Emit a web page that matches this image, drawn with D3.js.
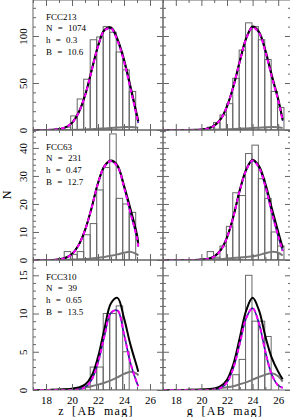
<!DOCTYPE html>
<html><head><meta charset="utf-8">
<script src="https://cdn.jsdelivr.net/npm/d3@7"></script>
<style>body{margin:0;background:#fff}svg{display:block}</style>
</head><body><svg id="c" width="290" height="417"></svg>
<script>
// ---------------- data ----------------
const magL = [17,17.5,18,18.5,19,19.5,20,20.5,21,21.5,22,22.5,23,23.5,24,24.5,25,25.1];
const magR = [17,17.5,18,18.5,19,19.5,20,20.5,21,21.5,22,22.5,23,23.5,24,24.5,25,25.5,26,26.35];

const galaxies = ["FCC213","FCC63","FCC310"];
const nValues = ["1074","231","39"];
const hValues = ["0.3","0.47","0.65"];
const bValues = ["10.6","12.7","13.5"];

const binWidth = 0.5;
// FCC213
const fcc213_z_start = 19.4;
const fcc213_z_counts = [3,15,33,54,96,99,110,104,83,64,41];
const fcc213_g_start = 20.45;
const fcc213_g_counts = [3,8,16,28,55,85,114,110,96,75,41,24];
const fcc213_z_gc    = [0,0,0.1,0.3,0.9,2.8,7.5,18.2,36.4,62.6,88.8,106,108,95,73,44,13.5,7.5];
const fcc213_z_bg    = [0,0,0,0,0,0,0.1,0.3,0.6,0.9,1.3,1.7,2.1,2.6,3.1,3.3,2.8,2.5];
const fcc213_z_total = [0,0,0.1,0.3,0.9,2.8,7.6,18.3,36.6,62.9,89.3,106.7,109.1,96.6,75.1,46.3,15.8,9.5];
const fcc213_g_gc    = [0,0,0,0,0,0.1,0.45,1.5,4.5,11.3,25,46,72.8,97,109.2,103.3,83.2,56.5,31.5,9.8];
const fcc213_g_bg    = [0,0,0,0,0,0.05,0.1,0.2,0.3,0.5,0.7,1,1.3,1.7,2.1,2.5,2.9,3.2,3,2];
const fcc213_g_total = [0,0,0,0,0,0.15,0.5,1.6,4.6,11.5,25.2,46.5,73.3,97.7,110.1,104.5,84.9,58.2,33,11];
// FCC63
const fcc63_z_start = 19.4;
const fcc63_z_counts = [3,2,3,9,13,25,33,45,22,20,17];
const fcc63_g_start = 20.45;
const fcc63_g_counts = [3,1,5,12,24,23,38,41,29,22,10,5];
const fcc63_z_gc    = [0,0,0,0,0.2,0.7,2.1,5.2,10.6,18.4,27.3,33.4,35.3,33.4,26,16.8,7.8,4.8];
const fcc63_z_bg    = [0,0,0,0,0.05,0.1,0.15,0.25,0.35,0.5,0.8,1.1,1.5,2,2.6,2.9,2,1.6];
const fcc63_z_total = [0,0,0,0,0.25,0.8,2.15,5.25,10.65,18.5,27.5,33.6,35.5,33.7,26.6,18.2,9,5.6];
const fcc63_g_gc    = [0,0,0,0,0,0,0.12,0.35,1.2,3.4,8,15.4,24.8,32,35.5,33,26.2,17,8.5,3.2];
const fcc63_g_bg    = [0,0,0,0,0,0.02,0.05,0.1,0.2,0.3,0.5,0.7,0.9,1.1,1.3,1.8,2.4,2.9,2.6,1.6];
const fcc63_g_total = [0,0,0,0,0,0.02,0.15,0.4,1.3,3.5,8.1,15.6,25,32.3,35.8,33.5,27.2,18.5,10.1,4.4];
// FCC310
const fcc310_z_start = 21.4;
const fcc310_z_counts = [3,3,10,10,11,5];
const fcc310_g_start = 22.45;
const fcc310_g_counts = [2,4,15,9,9,7];
const fcc310_z_gc    = [0,0,0,0,0,0,0.01,0.07,0.35,1.3,3.6,7.1,10.1,10.4,7.3,3.5,0.9,0.5];
const fcc310_z_bg    = [0,0,0.01,0.02,0.05,0.1,0.15,0.25,0.35,0.5,0.7,0.95,1.25,1.65,2.1,2.4,2.1,1.9];
const fcc310_z_total = [0,0,0.01,0.02,0.05,0.1,0.16,0.32,0.7,1.8,4.3,8.05,11.35,12.05,9.4,5.9,3,2.4];
const fcc310_g_gc    = [0,0,0,0,0,0,0,0.01,0.05,0.26,1,2.9,6.1,9.4,10.7,8.7,5,2,0.6,0.3];
const fcc310_g_bg    = [0,0,0,0,0.02,0.03,0.05,0.1,0.15,0.25,0.35,0.5,0.75,1,1.35,1.7,2,2.2,1.8,1.1];
const fcc310_g_total = [0,0,0,0,0.02,0.03,0.05,0.11,0.2,0.5,1.35,3.4,6.85,10.4,12.05,10.4,7,4.2,2.4,1.4];

const xDomain = [17,27];
const xLabelTicks = [18,20,22,24,26];
const yDomains = [[0,138.3],[0,46.4],[0,17]];
const yMajorTicks = [[0,50,100],[0,10,20,30,40],[0,5,10,15]];
const yMinorTicks = [d3.range(0,140,10), d3.range(0,47,2), d3.range(0,18,1)];
const xMinorTicks = d3.range(17,28,1);
const xMajorTicks = d3.range(18,28,2);
const xTitles = ["z [AB mag]","g [AB mag]"];

// ---------------- layout ----------------
const colX = [[33,163],[163,291]];
const rowY = [[0,130],[130,260],[260,390]];

const panels = [
  [{start:fcc213_z_start,counts:fcc213_z_counts,mag:magL,gc:fcc213_z_gc,bg:fcc213_z_bg,total:fcc213_z_total},
   {start:fcc213_g_start,counts:fcc213_g_counts,mag:magR,gc:fcc213_g_gc,bg:fcc213_g_bg,total:fcc213_g_total}],
  [{start:fcc63_z_start,counts:fcc63_z_counts,mag:magL,gc:fcc63_z_gc,bg:fcc63_z_bg,total:fcc63_z_total},
   {start:fcc63_g_start,counts:fcc63_g_counts,mag:magR,gc:fcc63_g_gc,bg:fcc63_g_bg,total:fcc63_g_total}],
  [{start:fcc310_z_start,counts:fcc310_z_counts,mag:magL,gc:fcc310_z_gc,bg:fcc310_z_bg,total:fcc310_z_total},
   {start:fcc310_g_start,counts:fcc310_g_counts,mag:magR,gc:fcc310_g_gc,bg:fcc310_g_bg,total:fcc310_g_total}]
];

const svg = d3.select("#c");
const FONT = "'Liberation Serif','DejaVu Serif',serif";
const AX = "#666";

panels.forEach((row, r) => {
  row.forEach((p, c) => {
    const x = d3.scaleLinear().domain(xDomain).range(colX[c]);
    const y = d3.scaleLinear().domain(yDomains[r]).range([rowY[r][1], rowY[r][0]]);
    const g = svg.append("g");
    const cid = `clip${r}${c}`;
    svg.append("clipPath").attr("id", cid).append("rect")
      .attr("x", colX[c][0]).attr("y", rowY[r][0])
      .attr("width", colX[c][1]-colX[c][0]).attr("height", rowY[r][1]-rowY[r][0]);
    const inner = g.append("g").attr("clip-path", `url(#${cid})`);

    // histogram bars
    const bins = p.counts.map((n, i) => ({x0: p.start + i*binWidth, x1: p.start + (i+1)*binWidth, n}));
    inner.selectAll("rect.bar").data(bins).join("rect").attr("class","bar")
      .attr("x", d => x(d.x0)).attr("width", d => x(d.x1)-x(d.x0))
      .attr("y", d => y(d.n)).attr("height", d => y(0)-y(d.n))
      .attr("fill","none").attr("stroke","#666").attr("stroke-width",1);

    const line = key => d3.line().curve(d3.curveCatmullRom.alpha(0.5))
      .x((m) => x(m)).y((m,i) => y(p[key][i]));
    inner.append("path").attr("d", line("bg")(p.mag)).attr("fill","none")
      .attr("stroke","#777").attr("stroke-width",2);
    inner.append("path").attr("d", line("gc")(p.mag)).attr("fill","none")
      .attr("stroke","#23238e").attr("stroke-width",1.6);
    inner.append("path").attr("d", line("total")(p.mag)).attr("fill","none")
      .attr("stroke","#000").attr("stroke-width",2);
    inner.append("path").attr("d", line("gc")(p.mag)).attr("fill","none")
      .attr("stroke","#ff00ff").attr("stroke-width",2).attr("stroke-dasharray","4,3");

    // frame
    g.append("rect").attr("x", colX[c][0]).attr("y", rowY[r][0])
      .attr("width", colX[c][1]-colX[c][0]).attr("height", rowY[r][1]-rowY[r][0])
      .attr("fill","none").attr("stroke",AX).attr("stroke-width",1);

    // ticks (inward) on all four sides
    const tickAxis = (gen, tv, size, tr) => {
      const a = g.append("g").attr("transform", tr)
        .call(gen.tickValues(tv).tickSize(size).tickFormat(""));
      a.select(".domain").remove();
      a.selectAll("line").attr("stroke", AX);
    };
    const minorX = xMinorTicks.filter(v => v%2===1);
    const minorY = yMinorTicks[r].filter(v => !yMajorTicks[r].includes(v));
    tickAxis(d3.axisBottom(x), xMajorTicks, -6, `translate(0,${rowY[r][1]})`);
    tickAxis(d3.axisBottom(x), minorX, -3, `translate(0,${rowY[r][1]})`);
    tickAxis(d3.axisTop(x), xMajorTicks, -6, `translate(0,${rowY[r][0]})`);
    tickAxis(d3.axisTop(x), minorX, -3, `translate(0,${rowY[r][0]})`);
    tickAxis(d3.axisLeft(y), yMajorTicks[r], -6, `translate(${colX[c][0]},0)`);
    tickAxis(d3.axisLeft(y), minorY, -3, `translate(${colX[c][0]},0)`);
    tickAxis(d3.axisRight(y), yMajorTicks[r], -6, `translate(${colX[c][1]},0)`);
    tickAxis(d3.axisRight(y), minorY, -3, `translate(${colX[c][1]},0)`);

    if (c === 0) {
      const la = g.append("g").attr("transform", `translate(${colX[0][0]},0)`)
        .call(d3.axisLeft(y).tickValues(yMajorTicks[r]).tickSize(0).tickFormat(d3.format("d")));
      la.select(".domain").remove();
      la.selectAll("text")
        .attr("x", -6).attr("y", 0).attr("dy", null).attr("text-anchor","middle")
        .attr("transform", "rotate(-90,-6,0)")
        .attr("font-family", FONT).attr("font-size", 11).attr("fill","#000");
      const lines = [galaxies[r], `N = ${nValues[r]}`, `h = ${hValues[r]}`, `B = ${bValues[r]}`];
      lines.forEach((t, i) => {
        g.append("text").attr("x", 46).attr("y", rowY[r][0] + 19.5 + i*11.8)
          .attr("font-family", FONT).attr("font-size", 9).attr("word-spacing", 3)
          .attr("fill","#000").text(t);
      });
    }
    if (r === 2) {
      const xa = g.append("g").attr("transform", `translate(0,${rowY[2][1]})`)
        .call(d3.axisBottom(x).tickValues(xLabelTicks).tickSize(0).tickFormat(d3.format("d")));
      xa.select(".domain").remove();
      xa.selectAll("text").attr("y", 13.5).attr("dy", null)
        .attr("font-family", FONT).attr("font-size", 11).attr("fill","#000");
      svg.append("text").attr("x", (colX[c][0]+colX[c][1])/2 - 2).attr("y", 415)
        .attr("text-anchor","middle").attr("font-family", FONT).attr("font-size", 12)
        .attr("letter-spacing", 1.3).attr("word-spacing", 3).text(xTitles[c]);
    }
  });
});

svg.append("text").attr("transform","translate(11,195) rotate(-90)")
  .attr("text-anchor","middle").attr("font-family", FONT).attr("font-size", 12).text("N");
</script>
</body></html>
